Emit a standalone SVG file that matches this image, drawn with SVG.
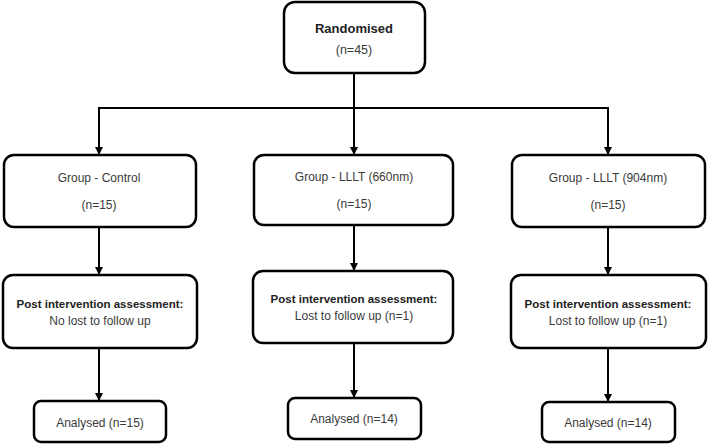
<svg xmlns="http://www.w3.org/2000/svg" width="708" height="444" viewBox="0 0 708 444">
<style>
.box{fill:#fff;stroke:#000;stroke-width:2.5}
.t{font-family:"Liberation Sans",Arial,sans-serif;font-size:12px;fill:#3a3a3a;text-anchor:middle}
.b{font-weight:bold;fill:#222;font-size:11.5px}
.c{fill:none;stroke:#000;stroke-width:2}
</style>
<defs>
<marker id="ah" markerWidth="8" markerHeight="8" refX="7" refY="4" orient="auto" markerUnits="userSpaceOnUse">
<path d="M0,0 L8,4 L0,8 z" fill="#000"/>
</marker>
</defs>
<g id="connectors">
<path class="c" d="M354,73 V108"/>
<path class="c" d="M98,108 H609"/>
<path class="c" d="M99,108 V154" marker-end="url(#ah)"/>
<path class="c" d="M354,108 V154" marker-end="url(#ah)"/>
<path class="c" d="M608,108 V154" marker-end="url(#ah)"/>
<path class="c" d="M99,227 V274" marker-end="url(#ah)"/>
<path class="c" d="M354,225 V270" marker-end="url(#ah)"/>
<path class="c" d="M608,227 V274" marker-end="url(#ah)"/>
<path class="c" d="M99,348 V400" marker-end="url(#ah)"/>
<path class="c" d="M354,343 V397" marker-end="url(#ah)"/>
<path class="c" d="M608,348 V401" marker-end="url(#ah)"/>
</g>
<g id="randomised">
<rect class="box" x="284" y="2" width="141" height="71" rx="11"/>
<text class="t b" x="354" y="33" style="font-size:13px">Randomised</text>
<text class="t" x="354" y="54" style="font-size:12.5px">(n=45)</text>
</g>
<g id="group-control">
<rect class="box" x="4" y="155" width="192" height="72" rx="10"/>
<text class="t" x="99" y="182">Group - Control</text>
<text class="t" x="99" y="209">(n=15)</text>
</g>
<g id="group-660">
<rect class="box" x="254" y="155" width="199" height="70" rx="10"/>
<text class="t" x="354" y="181">Group - LLLT (660nm)</text>
<text class="t" x="354" y="208">(n=15)</text>
</g>
<g id="group-904">
<rect class="box" x="512" y="155" width="193" height="72" rx="10"/>
<text class="t" x="608" y="182">Group - LLLT (904nm)</text>
<text class="t" x="608" y="209">(n=15)</text>
</g>
<g id="post-control">
<rect class="box" x="3" y="275" width="194" height="73" rx="10"/>
<text class="t b" x="100" y="308">Post intervention assessment:</text>
<text class="t" x="100" y="325">No lost to follow up</text>
</g>
<g id="post-660">
<rect class="box" x="253" y="271" width="200" height="72" rx="10"/>
<text class="t b" x="354" y="303">Post intervention assessment:</text>
<text class="t" x="354" y="320">Lost to follow up (n=1)</text>
</g>
<g id="post-904">
<rect class="box" x="511" y="275" width="195" height="73" rx="10"/>
<text class="t b" x="608" y="308">Post intervention assessment:</text>
<text class="t" x="608" y="325">Lost to follow up (n=1)</text>
</g>
<g id="analysed-control">
<rect class="box" x="34" y="401" width="132" height="41" rx="7"/>
<text class="t" x="100" y="427">Analysed (n=15)</text>
</g>
<g id="analysed-660">
<rect class="box" x="288" y="398" width="133" height="41" rx="7"/>
<text class="t" x="354" y="423">Analysed (n=14)</text>
</g>
<g id="analysed-904">
<rect class="box" x="542" y="402" width="133" height="40" rx="7"/>
<text class="t" x="608" y="427">Analysed (n=14)</text>
</g>
</svg>
